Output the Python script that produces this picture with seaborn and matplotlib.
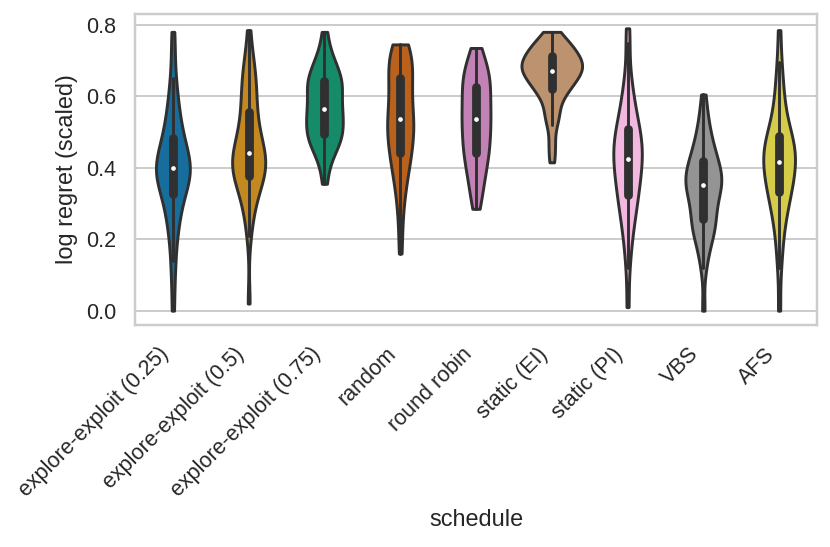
import numpy as np
import pandas as pd
import matplotlib
matplotlib.use("Agg")
import matplotlib.pyplot as plt
import seaborn as sns

categories = ["explore-exploit (0.25)", "explore-exploit (0.5)", "explore-exploit (0.75)",
              "random", "round robin", "static (EI)", "static (PI)", "VBS", "AFS"]

ee025 = [0.00, 0.09, 0.14, 0.19, 0.22, 0.24, 0.26, 0.28, 0.29, 0.31, 0.32, 0.33, 0.34, 0.35,
         0.36, 0.37, 0.37, 0.38, 0.38, 0.39, 0.39, 0.40, 0.40, 0.41, 0.41, 0.42, 0.42, 0.43,
         0.44, 0.45, 0.46, 0.47, 0.48, 0.49, 0.50, 0.52, 0.53, 0.55, 0.57, 0.59, 0.62, 0.65,
         0.72, 0.78]
ee05 = [0.02, 0.21, 0.25, 0.28, 0.30, 0.315, 0.33, 0.34, 0.35, 0.36, 0.37, 0.378, 0.385,
        0.39, 0.395, 0.40, 0.405, 0.41, 0.415, 0.42, 0.425, 0.432, 0.44, 0.448, 0.456, 0.464,
        0.472, 0.48, 0.49, 0.50, 0.51, 0.525, 0.54, 0.555, 0.57, 0.585, 0.60, 0.615, 0.63,
        0.645, 0.66, 0.68, 0.70, 0.72, 0.785]
ee075 = [0.355, 0.40, 0.425, 0.44, 0.452, 0.463, 0.472, 0.479, 0.485, 0.49, 0.497, 0.505,
         0.512, 0.52, 0.527, 0.535, 0.542, 0.55, 0.556, 0.562, 0.568, 0.577, 0.586, 0.595,
         0.605, 0.612, 0.62, 0.627, 0.634, 0.64, 0.645, 0.65, 0.66, 0.67, 0.68, 0.69, 0.70,
         0.715, 0.74, 0.78]
rand = [0.16, 0.23, 0.28, 0.32, 0.34, 0.36, 0.38, 0.395, 0.41, 0.42, 0.43, 0.44, 0.45, 0.46,
        0.47, 0.48, 0.49, 0.50, 0.51, 0.515, 0.52, 0.53, 0.535, 0.545, 0.555, 0.565, 0.575,
        0.59, 0.60, 0.61, 0.62, 0.63, 0.64, 0.65, 0.66, 0.67, 0.68, 0.69, 0.70, 0.71, 0.72,
        0.725, 0.73, 0.74, 0.745]
rrobin = [0.285, 0.31, 0.335, 0.355, 0.37, 0.385, 0.40, 0.415, 0.425, 0.435, 0.445, 0.455,
          0.465, 0.475, 0.485, 0.495, 0.505, 0.515, 0.525, 0.535, 0.54, 0.55, 0.56, 0.57,
          0.58, 0.59, 0.60, 0.61, 0.62, 0.63, 0.64, 0.645, 0.655, 0.665, 0.675, 0.69, 0.70,
          0.715, 0.735]
static_ei = [0.415, 0.45, 0.48, 0.52, 0.535, 0.545, 0.56, 0.575, 0.59, 0.60, 0.61, 0.615,
             0.62, 0.625, 0.63, 0.635, 0.64, 0.645, 0.65, 0.655, 0.66, 0.662, 0.665, 0.668,
             0.67, 0.673, 0.676, 0.68, 0.683, 0.686, 0.69, 0.693, 0.696, 0.70, 0.703, 0.706,
             0.71, 0.713, 0.716, 0.72, 0.725, 0.73, 0.735, 0.74, 0.745, 0.75, 0.755, 0.76,
             0.77, 0.78]
static_pi = [0.01, 0.12, 0.17, 0.205, 0.23, 0.25, 0.268, 0.283, 0.297, 0.31, 0.322, 0.334,
             0.345, 0.355, 0.365, 0.375, 0.385, 0.395, 0.405, 0.413, 0.421, 0.429, 0.437,
             0.445, 0.453, 0.461, 0.469, 0.477, 0.485, 0.493, 0.502, 0.511, 0.522, 0.535,
             0.55, 0.567, 0.585, 0.605, 0.63, 0.66, 0.75, 0.79]
vbs = [0.00, 0.12, 0.15, 0.18, 0.20, 0.21, 0.22, 0.23, 0.24, 0.25, 0.255, 0.265, 0.28, 0.29,
       0.30, 0.31, 0.32, 0.33, 0.34, 0.345, 0.35, 0.355, 0.36, 0.365, 0.37, 0.375, 0.38, 0.39,
       0.40, 0.405, 0.41, 0.42, 0.43, 0.44, 0.45, 0.46, 0.475, 0.49, 0.51, 0.53, 0.56, 0.605]
afs = [0.00, 0.12, 0.17, 0.21, 0.24, 0.262, 0.28, 0.295, 0.308, 0.325, 0.334, 0.343, 0.352,
       0.361, 0.37, 0.379, 0.388, 0.397, 0.405, 0.413, 0.421, 0.428, 0.435, 0.442, 0.449,
       0.456, 0.463, 0.47, 0.477, 0.486, 0.495, 0.51, 0.525, 0.545, 0.565, 0.59, 0.62, 0.655,
       0.695, 0.785]

series = [ee025, ee05, ee075, rand, rrobin, static_ei, static_pi, vbs, afs]
rows = []
for cat, vals in zip(categories, series):
    for v in vals:
        rows.append({"schedule": cat, "log regret (scaled)": v})
df = pd.DataFrame(rows)

sns.set_theme(style="whitegrid", palette="colorblind")
plt.rcParams["font.family"] = ["Liberation Sans", "DejaVu Sans"]

DPI = 141
fig = plt.figure(figsize=(830 / DPI, 547 / DPI), dpi=DPI)
ax = fig.add_axes([135 / 830, 1 - 325 / 547, (817 - 135) / 830, (325 - 14) / 547])
sns.violinplot(data=df, x="schedule", y="log regret (scaled)", hue="schedule",
               order=categories, palette="colorblind", cut=0, legend=False,
               linewidth=1.5, bw_adjust=0.75, density_norm="area", common_norm=True,
               inner_kws=dict(box_width=4.5, whis_width=1.5, marker="o"), ax=ax)
for ln in ax.lines:
    if ln.get_marker() == "o":
        ln.set_markersize(2.4)
        ln.set_markeredgewidth(0)
        ln.set_markerfacecolor("white")
ax.set_ylim(-0.04, 0.83)
ax.set_yticks([0.0, 0.2, 0.4, 0.6, 0.8])
ax.set_xticks(range(len(categories)))
ax.set_xticklabels(categories, rotation=45, ha="right")
fig.savefig("out.png", dpi=DPI)
